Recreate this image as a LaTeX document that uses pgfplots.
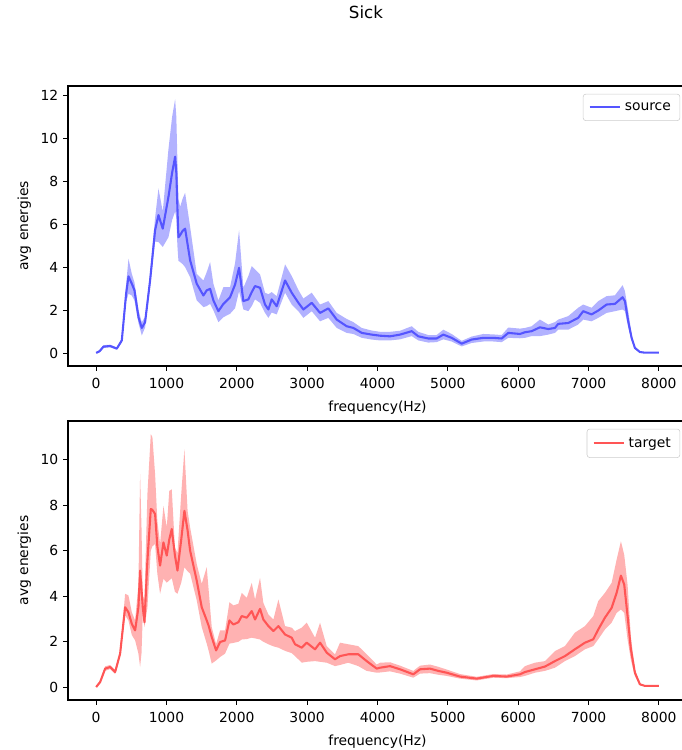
\documentclass[border=0pt]{standalone}
\usepackage{fontspec}
\setmainfont{DejaVu Sans}
\usepackage{pgfplots}
\pgfplotsset{compat=1.18}
\usepgfplotslibrary{fillbetween}

\definecolor{srcline}{RGB}{85,85,255}
\definecolor{tgtline}{RGB}{255,85,85}

\pgfplotsset{
  specax/.style={
    scale only axis, width=445.7pt,
    xmin=-400, xmax=8400,
    xtick={0,1000,...,8000},
    tick align=outside, xtick pos=bottom, ytick pos=left,
    major tick length=3.5pt,
    every tick/.style={black, line width=0.8pt},
    axis line style={line width=0.8pt},
    tick label style={font=\fontsize{10}{12}\selectfont},
    xticklabel style={yshift=-1.5pt},
    /pgf/number format/assume math mode=true,
    /pgf/number format/1000 sep={},
    label style={font=\fontsize{10}{12}\selectfont},
    xlabel style={yshift=-2pt},
    xlabel={frequency(Hz)}, ylabel={avg energies},
    legend cell align=left,
    legend image code/.code={\draw[#1,line width=1.5pt] (0pt,0pt) -- (22pt,0pt);},
    legend style={at={(0.989,0.972)}, anchor=north east, draw=black!20,
      rounded corners=2pt, font=\fontsize{10}{12}\selectfont,
      inner xsep=4pt, inner ysep=3.5pt, nodes={inner sep=2.5pt}},
  },
}

% source: frequency, mean, lower, upper
\pgfplotstableread{
x m lo hi
0 0.02 0.0 0.05
50 0.1 0.05 0.15
104 0.31 0.25 0.38
199 0.34 0.28 0.40
294 0.22 0.17 0.27
365 0.6 0.5 0.7
426 2.77 2.4 3.2
460 3.58 2.77 4.40
507 3.24 2.69 3.70
545 2.93 2.46 3.3
602 1.68 1.4 2.0
649 1.18 0.83 1.45
696 1.45 1.2 1.7
767 3.39 3.1 3.7
838 5.73 5.2 6.3
886 6.43 5.18 7.67
947 5.80 4.95 6.60
1028 7.28 5.4 9.5
1080 8.4 6.2 11.0
1123 9.15 6.6 11.83
1140 8.4 6.3 11.0
1155 6.8 5.0 9.0
1170 5.4 4.3 7.2
1194 5.5 4.25 6.82
1230 5.7 4.15 7.2
1265 5.80 4.01 7.47
1336 4.33 3.55 5.88
1430 3.24 2.46 3.70
1525 2.69 2.15 3.39
1572 2.93 2.2 3.78
1620 3.0 2.3 4.25
1667 2.46 2.0 3.24
1738 1.96 1.45 2.46
1809 2.30 1.68 3.08
1904 2.61 1.84 3.08
1975 3.2 2.1 4.2
2032 3.98 2.89 5.73
2093 2.43 2.04 3.05
2164 2.51 1.96 3.6
2212 2.85 2.2 4.06
2259 3.13 2.51 3.9
2330 3.05 2.35 3.67
2401 2.27 1.88 2.82
2449 2.04 1.65 2.75
2496 2.51 1.9 2.85
2567 2.19 1.81 2.66
2686 3.39 2.82 4.14
2780 2.82 2.27 3.60
2875 2.35 1.96 2.95
2946 2.04 1.65 2.55
3065 2.35 1.96 2.82
3183 1.88 1.49 2.27
3301 2.09 1.65 2.43
3420 1.57 1.18 1.88
3562 1.26 0.95 1.6
3657 1.18 0.9 1.45
3776 0.95 0.72 1.18
3918 0.87 0.64 1.06
4036 0.82 0.6 1.0
4178 0.79 0.6 1.0
4320 0.87 0.65 1.05
4486 1.03 0.8 1.26
4580 0.79 0.6 1.0
4722 0.69 0.5 0.85
4840 0.69 0.52 0.85
4935 0.87 0.65 1.1
5054 0.72 0.55 0.9
5196 0.45 0.32 0.58
5338 0.64 0.48 0.78
5504 0.72 0.55 0.9
5646 0.72 0.55 0.88
5765 0.69 0.52 0.85
5859 0.95 0.72 1.2
6025 0.90 0.7 1.15
6096 0.98 0.72 1.18
6191 1.03 0.8 1.26
6309 1.21 0.8 1.57
6427 1.13 0.87 1.34
6522 1.18 0.95 1.45
6569 1.37 1.1 1.57
6711 1.41 1.1 1.73
6853 1.65 1.34 2.12
6924 1.96 1.57 2.27
7043 1.81 1.49 2.12
7138 1.99 1.65 2.43
7257 2.27 1.88 2.66
7375 2.30 1.96 2.7
7484 2.61 2.04 3.17
7517 2.43 1.96 2.9
7564 1.49 1.2 1.96
7612 0.72 0.6 0.9
7659 0.25 0.2 0.3
7730 0.06 0.05 0.08
7801 0.03 0.02 0.04
8000 0.03 0.02 0.04
}\srcdata

% target: frequency, mean, lower, upper
\pgfplotstableread{
x m lo hi
0 0.01 0.0 0.03
57 0.23 0.18 0.28
128 0.82 0.72 0.92
199 0.89 0.8 0.98
270 0.67 0.58 0.76
341 1.48 1.35 1.6
412 3.52 3.16 4.11
459 3.30 2.94 4.04
507 2.79 2.3 3.3
554 2.50 2.06 2.94
601 3.52 1.48 4.5
625 5.13 0.89 9.37
645 4.3 1.5 7.0
663 3.52 3.2 4.0
687 2.86 2.65 3.9
729 5.57 3.5 8.5
777 7.84 6.01 11.13
800 7.8 6.2 11.0
838 7.62 6.3 9.37
870 6.2 5.0 7.32
909 5.35 4.11 6.30
957 6.37 4.77 7.98
1004 5.79 4.6 7.03
1040 6.5 4.7 8.64
1075 6.96 4.8 8.7
1120 5.8 4.2 6.15
1156 5.13 4.11 5.9
1210 6.5 4.6 8.5
1255 7.76 5.28 10.47
1300 6.9 5.1 7.76
1336 6.01 5.0 7.03
1430 4.69 3.82 5.42
1501 3.52 2.65 4.55
1572 2.94 1.92 5.28
1600 2.7 1.6 4.26
1643 2.21 1.04 2.65
1705 1.62 1.18 1.9
1762 1.99 1.33 2.50
1833 2.06 1.48 2.5
1895 2.94 1.92 3.74
1951 2.76 1.95 3.6
2022 2.86 2.0 3.67
2070 3.13 2.1 4.15
2141 3.06 2.12 3.93
2212 3.35 2.18 4.59
2259 2.98 2.15 3.86
2330 3.45 2.1 4.81
2377 2.98 2.0 3.71
2449 2.69 1.89 3.2
2520 2.47 1.8 2.98
2591 2.69 1.74 3.86
2686 2.32 1.6 2.69
2780 2.18 1.5 2.62
2828 1.89 1.37 2.47
2923 1.74 1.08 2.62
2994 1.96 1.12 2.84
3112 1.67 1.15 2.18
3183 1.96 1.12 2.84
3278 1.52 1.08 1.81
3396 1.23 0.93 1.45
3467 1.37 0.98 1.96
3585 1.45 1.08 1.89
3727 1.45 0.93 1.81
3846 1.15 0.72 1.45
3989 0.82 0.64 1.0
4036 0.86 0.65 1.08
4178 0.93 0.7 1.1
4320 0.79 0.6 0.95
4509 0.57 0.42 0.72
4604 0.79 0.6 0.95
4746 0.82 0.62 1.0
4864 0.72 0.55 0.9
4983 0.64 0.5 0.78
5172 0.47 0.38 0.58
5410 0.38 0.3 0.46
5646 0.50 0.42 0.58
5836 0.47 0.4 0.56
6025 0.57 0.45 0.7
6096 0.67 0.50 0.93
6238 0.79 0.64 1.08
6380 0.91 0.72 1.15
6522 1.15 0.86 1.59
6664 1.37 1.15 1.81
6806 1.67 1.37 2.40
6949 1.96 1.67 2.69
7067 2.11 1.81 3.13
7138 2.54 2.11 3.79
7233 3.06 2.54 4.15
7328 3.49 2.84 4.59
7399 4.15 3.27 5.61
7460 4.91 3.42 6.42
7507 4.52 3.27 5.83
7555 3.13 2.1 4.5
7602 1.67 1.2 2.2
7659 0.64 0.5 0.8
7730 0.13 0.1 0.16
7801 0.06 0.05 0.07
8000 0.06 0.05 0.07
}\tgtdata

\begin{document}
\begin{tikzpicture}[font=\fontsize{10}{12}\selectfont]

\begin{axis}[specax, at={(48.96pt,276.48pt)}, anchor=south west,
  height=201.6pt, ymin=-0.59, ymax=12.44, ytick={0,2,...,12}]
\addplot[draw=none, name path=shi, forget plot] table[x=x, y=hi]{\srcdata};
\addplot[draw=none, name path=slo, forget plot] table[x=x, y=lo]{\srcdata};
\addplot[fill=blue, fill opacity=0.3, draw=none, forget plot] fill between[of=shi and slo];
\addplot[srcline, line width=1.5pt, line join=round] table[x=x, y=m]{\srcdata};
\addlegendentry{source}
\end{axis}

\begin{axis}[specax, at={(48.96pt,36pt)}, anchor=south west,
  height=200.9pt, ymin=-0.56, ymax=11.71, ytick={0,2,...,10}]
\addplot[draw=none, name path=thi, forget plot] table[x=x, y=hi]{\tgtdata};
\addplot[draw=none, name path=tlo, forget plot] table[x=x, y=lo]{\tgtdata};
\addplot[fill=red, fill opacity=0.3, draw=none, forget plot] fill between[of=thi and tlo];
\addplot[tgtline, line width=1.5pt, line join=round] table[x=x, y=m]{\tgtdata};
\addlegendentry{target}
\end{axis}

\node[font=\fontsize{12}{14}\selectfont] at (263.5pt,531.4pt) {Sick};

\pgfresetboundingbox
\path[use as bounding box] (0pt,0pt) rectangle (490.32pt,540pt);
\end{tikzpicture}
\end{document}
